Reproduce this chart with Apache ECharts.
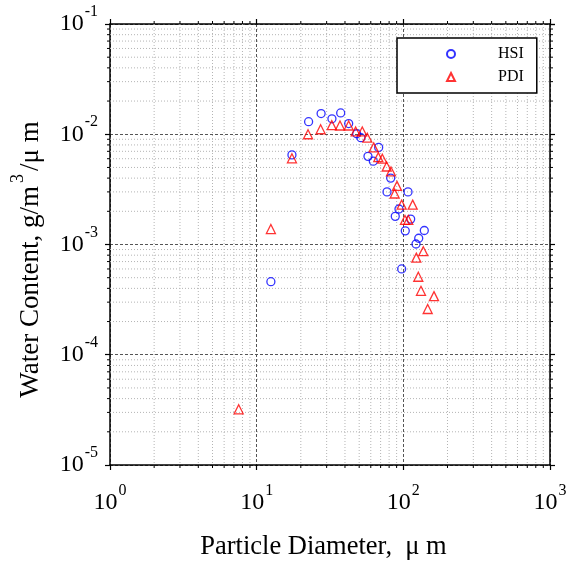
<!DOCTYPE html>
<html>
<head>
<meta charset="utf-8">
<script src="https://cdn.jsdelivr.net/npm/echarts@6/dist/echarts.min.js"></script>
<style>
html,body{margin:0;padding:0;background:#fff;}
#chart{width:566px;height:561px;}
</style>
</head>
<body>
<div id="chart"></div>
<script>
// ---- data ----
const hsiX = [12.5, 17.4, 22.6, 27.5, 32.6, 37.4, 42.4, 48.1, 51.4, 57.4, 62.4, 67.9, 82.0, 77.4, 107.6, 93.4, 88.1, 112.2, 103.1, 139, 127.3, 122, 97.4];
const hsiY = [4.6e-4, 6.5e-3, 0.0130, 0.0154, 0.0138, 0.0156, 0.0125, 0.0101, 0.0093, 0.0063, 0.0057, 0.0076, 0.0040, 0.0030, 0.0030, 0.0021, 0.0018, 0.0017, 0.00133, 0.00134, 0.00114, 0.00101, 0.0006];
const pdiX = [7.54, 12.5, 17.4, 22.4, 27.3, 32.5, 37.0, 42.4, 47.3, 52.5, 56.8, 62.8, 67.5, 71.9, 77.0, 82.4, 90.5, 87.3, 97.4, 115.8, 102.6, 108.1, 136.8, 122.6, 126.5, 131.9, 161.8, 146.6];
const pdiY = [3.2e-5, 1.38e-3, 6.05e-3, 0.0100, 0.0111, 0.0121, 0.0120, 0.0120, 0.0106, 0.0106, 0.0093, 0.0076, 0.0062, 0.0060, 0.0051, 0.0046, 0.0034, 0.0029, 0.0023, 0.0023, 0.00167, 0.00167, 8.7e-4, 7.6e-4, 5.1e-4, 3.8e-4, 3.4e-4, 2.6e-4];
const seriesNames = ['HSI', 'PDI'];
const xDecades = [1, 10, 100];
const yDecades = [1e-5, 1e-4, 1e-3, 1e-2];
const minorFactors = [2, 3, 4, 5, 6, 7, 8, 9];
const xRange = [1, 1000];
const yRange = [1e-5, 0.1];
const xTitle = 'Particle Diameter,  \u03bc m';
const yTitleParts = ['Water Content, g/m', '3', '/\u03bc m'];

// ---- build ----
const FONT = '"Liberation Serif", "Times New Roman", serif';
const xMinor = [];
xDecades.forEach(d => minorFactors.forEach(f => xMinor.push(d * f)));
const yMinor = [];
yDecades.forEach(d => minorFactors.forEach(f => yMinor.push(d * f)));

const zip = (a, b) => a.map((v, i) => [v, b[i]]);

const labelRich = {
  b: { fontFamily: FONT, fontSize: 24, color: '#000', lineHeight: 40, verticalAlign: 'middle' },
  s: { fontFamily: FONT, fontSize: 16, color: '#000', lineHeight: 16, verticalAlign: 'top', padding: [0, 0, 0, 1] }
};
function powLabel(v) {
  const e = Math.round(Math.log10(v));
  return '{b|10}{s|' + e + '}';
}

function minorXItem(params, api) {
  const cs = params.coordSys;
  const x = api.coord([api.value(0), api.value(1)])[0];
  const top = cs.y, bot = cs.y + cs.height;
  return { type: 'group', children: [
    { type: 'line', shape: { x1: x, y1: top, x2: x, y2: bot }, style: { stroke: '#b4b4b4', lineWidth: 1, lineDash: [1, 2] } },
    { type: 'line', shape: { x1: x, y1: bot, x2: x, y2: bot + 3 }, style: { stroke: '#000', lineWidth: 1 } },
    { type: 'line', shape: { x1: x, y1: top, x2: x, y2: top - 3 }, style: { stroke: '#000', lineWidth: 1 } }
  ]};
}
function minorYItem(params, api) {
  const cs = params.coordSys;
  const y = api.coord([api.value(0), api.value(1)])[1];
  const l = cs.x, r = cs.x + cs.width;
  return { type: 'group', children: [
    { type: 'line', shape: { x1: l, y1: y, x2: r, y2: y }, style: { stroke: '#b4b4b4', lineWidth: 1, lineDash: [1, 2] } },
    { type: 'line', shape: { x1: l - 3, y1: y, x2: l, y2: y }, style: { stroke: '#000', lineWidth: 1 } },
    { type: 'line', shape: { x1: r, y1: y, x2: r + 3, y2: y }, style: { stroke: '#000', lineWidth: 1 } }
  ]};
}

const axisLine = { show: true, lineStyle: { color: '#000', width: 1.5 } };
const majorTick = { show: true, length: 5, lineStyle: { color: '#000', width: 1.2 } };

const chart = echarts.init(document.getElementById('chart'), null, { renderer: 'canvas' });
chart.setOption({
  animation: false,
  backgroundColor: '#fff',
  grid: { left: 110, right: 16, top: 24, bottom: 96, containLabel: false, outerBoundsMode: 'none' },
  legend: {
    data: seriesNames,
    orient: 'vertical',
    left: 397, top: 38,
    backgroundColor: '#fff',
    borderColor: '#000', borderWidth: 1.5, borderRadius: 0,
    padding: [8, 13, 8, 49],
    itemGap: 7,
    itemWidth: 8, itemHeight: 8,
    textStyle: { fontFamily: FONT, fontSize: 16, color: '#000', padding: [0, 0, 0, 38], lineHeight: 16 }
  },
  xAxis: [
    {
      type: 'log', logBase: 10, min: xRange[0], max: xRange[1], position: 'bottom',
      axisLine, axisTick: majorTick,
      axisLabel: { formatter: powLabel, rich: labelRich, margin: 18 },
      splitLine: { show: true, lineStyle: { color: '#555', width: 1, type: [3, 2] } },
      name: xTitle, nameLocation: 'middle', nameGap: 69,
      nameTextStyle: { fontFamily: FONT, fontSize: 26.5, color: '#000', padding: [0, 13, 0, 0] }
    },
    {
      type: 'log', logBase: 10, min: xRange[0], max: xRange[1], position: 'top',
      axisLine, axisTick: majorTick, axisLabel: { show: false }, splitLine: { show: false }
    }
  ],
  yAxis: [
    {
      type: 'log', logBase: 10, min: yRange[0], max: yRange[1], position: 'left',
      axisLine, axisTick: majorTick,
      axisLabel: { formatter: powLabel, rich: labelRich, margin: 12 },
      splitLine: { show: true, lineStyle: { color: '#555', width: 1, type: [3, 2] } },
      name: '{a|' + yTitleParts[0] + '}{s|' + yTitleParts[1] + '}{a|' + yTitleParts[2] + '}',
      nameLocation: 'middle', nameGap: 57,
      nameTextStyle: {
        padding: [0, 30, 0, 0],
        rich: {
          a: { fontFamily: FONT, fontSize: 27, color: '#000', lineHeight: 44, verticalAlign: 'middle' },
          s: { fontFamily: FONT, fontSize: 18, color: '#000', lineHeight: 18, verticalAlign: 'top', padding: [0, 3, 0, 3] }
        }
      }
    },
    {
      type: 'log', logBase: 10, min: yRange[0], max: yRange[1], position: 'right',
      axisLine, axisTick: majorTick, axisLabel: { show: false }, splitLine: { show: false }
    }
  ],
  series: [
    {
      type: 'custom', silent: true, z: 1, clip: false,
      xAxisIndex: 0, yAxisIndex: 0,
      renderItem: minorXItem,
      data: xMinor.map(v => [v, 1e-3])
    },
    {
      type: 'custom', silent: true, z: 1, clip: false,
      xAxisIndex: 0, yAxisIndex: 0,
      renderItem: minorYItem,
      data: yMinor.map(v => [10, v])
    },
    {
      name: seriesNames[0], type: 'scatter', z: 5,
      xAxisIndex: 0, yAxisIndex: 0,
      symbol: 'circle', symbolSize: 8,
      itemStyle: { color: 'rgba(0,0,0,0)', borderColor: '#0000ff', borderWidth: 1.3 },
      data: zip(hsiX, hsiY)
    },
    {
      name: seriesNames[1], type: 'scatter', z: 5,
      xAxisIndex: 0, yAxisIndex: 0,
      symbol: 'triangle', symbolSize: 9,
      itemStyle: { color: 'rgba(0,0,0,0)', borderColor: '#ff0000', borderWidth: 1.3 },
      data: zip(pdiX, pdiY)
    }
  ]
});
</script>
</body>
</html>
